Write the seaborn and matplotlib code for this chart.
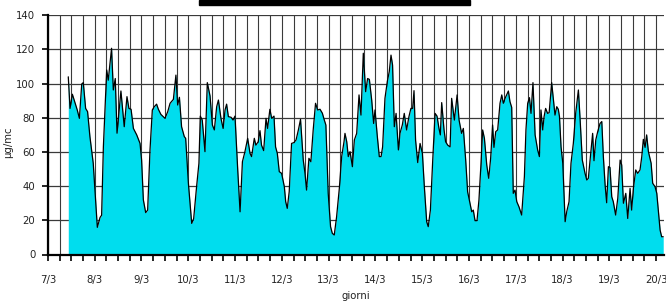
import matplotlib
matplotlib.use("Agg")
import matplotlib.pyplot as plt
import seaborn as sns
import pandas as pd
import numpy as np
from matplotlib.patches import Rectangle
from matplotlib.ticker import MultipleLocator, FixedLocator

# hours elapsed since 7/3 00:00
hours = [10.5, 11.4, 12.6, 14.3, 15.1, 16.2, 17.4, 18.2, 19.4, 20.4, 21.6, 23.3, 24.2, 25.4, 26.8,
         27.6, 28.5, 30.2, 31.0, 32.7, 33.6, 34.6, 35.5, 37.5, 39.2, 40.6, 41.6, 42.7, 43.9, 45.6,
         47.3, 48.1, 49.0, 50.2, 51.2, 52.4, 53.6, 54.6, 55.8, 56.7, 58.0, 60.1, 61.5, 62.7, 64.4,
         65.7, 66.6, 67.5, 68.6, 70.0, 70.7, 72.1, 73.8, 74.8, 76.3, 77.5, 78.2, 79.2, 80.6, 81.8,
         83.2, 84.4, 85.4, 86.6, 87.5, 88.8, 89.9, 90.9, 91.7, 92.6, 94.0, 95.0, 96.0, 97.4, 98.6,
         99.8, 101.1, 102.5, 103.7, 104.5, 105.9, 106.7, 107.9, 108.8, 109.6, 110.7, 111.9, 112.7,
         113.9, 114.8, 116.0, 116.8, 117.7, 118.7, 119.9, 121.3, 122.0, 122.8, 123.8, 125.0, 126.2,
         127.3, 128.5, 129.6, 131.0, 131.9, 132.7, 133.9, 134.9, 136.1, 137.3, 138.4, 139.6, 140.8,
         141.8, 142.6, 143.8, 145.0, 145.9, 146.9, 148.1, 149.5, 150.7, 151.9, 152.4, 153.3, 154.1,
         155.0, 156.2, 157.2, 158.4, 159.6, 160.6, 161.8, 163.0, 164.0, 164.9, 166.1, 167.1, 167.8,
         169.0, 170.0, 170.9, 171.7, 172.9, 174.1, 175.1, 176.0, 176.8, 177.7, 178.6, 179.8, 180.6,
         181.8, 182.8, 184.0, 185.2, 186.2, 187.1, 187.8, 188.6, 189.7, 190.9, 192.1, 193.1, 194.3,
         195.1, 196.2, 197.4, 198.6, 199.6, 200.6, 201.3, 202.0, 203.2, 204.0, 205.1, 206.3, 207.1,
         208.5, 209.9, 210.9, 212.2, 213.1, 214.3, 215.3, 216.5, 217.4, 218.2, 219.1, 220.1, 221.1,
         222.2, 223.0, 223.9, 225.1, 226.1, 227.1, 228.1, 228.8, 229.7, 230.7, 231.9, 232.8, 233.6,
         234.5, 235.3, 236.2, 237.0, 237.9, 238.7, 239.6, 240.5, 241.6, 243.0, 244.4, 245.2, 246.1,
         247.0, 247.8, 248.8, 249.9, 251.2, 252.1, 252.9, 253.8, 254.5, 255.3, 256.3, 257.1, 258.4,
         259.3, 260.1, 261.0, 261.8, 262.4, 263.2, 264.1, 265.3, 266.1, 267.3, 268.3, 269.5, 270.7,
         272.1, 272.9, 274.1, 275.5, 276.4, 277.2, 278.4, 279.4, 280.1, 281.0, 282.0, 283.2, 284.1,
         284.9, 285.8, 286.6, 287.5, 288.3, 289.2, 290.0, 291.2, 292.3, 293.5, 294.3, 295.2, 296.4,
         297.4, 298.6, 299.4, 300.3, 301.5, 302.5, 303.7, 304.6, 305.4, 306.3, 307.1, 308.0, 309.4,
         310.2, 311.4, 312.3, 313.1, 314.0, 314.8, 315.6]

values = [104, 85.5, 93.8, 87.5, 84.6, 79.7, 99.8, 100.6, 85.5, 83.6, 69, 53.4, 37.7, 15.9, 21.7,
          23, 63, 108, 102, 120.7, 96.3, 103, 71, 95.7, 74.8, 92.4, 85.5, 85, 73.8, 70,
          65, 55.3, 32, 24.5, 26, 61, 84.6, 86.5, 88, 85, 82, 79.7, 83.6, 88.5, 90.8,
          105, 87.5, 92, 74.8, 69, 68, 41.7, 18.2, 21, 39.7, 53.4, 81, 78.7, 60.2, 100.6,
          92.8, 75.8, 72.9, 86.5, 90.4, 79.7, 73.8, 84.6, 88, 80.7, 80.3, 78.7, 81, 49.5, 25,
          54.3, 60.2, 68, 59.2, 57.3, 68, 64, 66, 72.5, 64, 60.8, 79.7, 73.8,
          85, 79.7, 81, 63, 59.2, 48.5, 47.5, 39.7, 30.9, 27, 36.8, 65, 65.5,
          67, 72.9, 79.1, 55.3, 47.5, 37.7, 56.3, 54.3, 72.9, 88.5, 84.6, 85, 82.7,
          78.7, 75.8, 35.8, 16.3, 12.4, 11.4, 22.1, 38.7, 57.3, 66, 70.9, 66, 57.3,
          60.2, 51.4, 67, 70.9, 93.4, 81.6, 117.8, 95.3, 103, 102.5, 90.4, 76.7, 84.6,
          68.9, 57.3, 57.3, 63, 91.4, 101.2, 107, 116.7, 110.9, 74.8, 82.6, 61.2, 70.9,
          75.8, 82.6, 72.9, 80.7, 85.5, 85.5, 95.9, 67, 53.8, 65, 59.2, 39.7, 19.2,
          16.3, 26, 55.3, 82.6, 81, 73.8, 70, 88.9, 72.9, 66, 64, 63, 91.4,
          78.7, 93.4, 78.7, 70.9, 73.8, 55.3, 36.7, 30, 25, 26, 19.8, 19.8, 31.9,
          54.3, 72.9, 68, 52.4, 44.6, 56.3, 75.8, 62.7, 71.9, 72.9, 88.5, 93.4, 88.5,
          91.4, 93.4, 95.7, 89.5, 86.1, 35.8, 37.7, 30.9, 28, 23.1, 45.5, 72.9, 88.5,
          91.8, 82.6, 100.6, 70, 61.2, 57.3, 84.6, 72.9, 80.7, 85.5, 82.6, 83, 100.6,
          90.4, 81.6, 86.5, 85, 80.7, 63, 53.4, 19.2, 25, 30.9, 53.4, 65, 82.6,
          96.3, 80.7, 55.3, 47.5, 43.6, 44.6, 59.2, 70.9, 54.9, 67, 71.9, 76.7, 77.8,
          57.3, 40.7, 30.3, 51.4, 51, 33.8, 30.9, 23.1, 32.9, 55.3, 52.4, 30, 35.8,
          21.1, 38.7, 26, 38.7, 49.5, 47.5, 49.5, 57.3, 67.4, 62.7, 70, 60.2, 53.4,
          41.7, 39.7, 35.8, 26, 14.3, 10.4, 10.4]

day_labels = ["7/3", "8/3", "9/3", "10/3", "11/3", "12/3", "13/3",
              "14/3", "15/3", "16/3", "17/3", "18/3", "19/3", "20/3"]
y_ticks = [0, 20, 40, 60, 80, 100, 120, 140]

df = pd.DataFrame({"ora": hours, "conc": values})

sns.set_theme(style="white")
plt.rcParams["font.family"] = ["DejaVu Sans"]

fig = plt.figure(figsize=(6.66, 3.04), dpi=100)
W, H = 666, 304
x0, y0, y1, xr = 47.8, 254.5, 15.3, 664
ax = fig.add_axes([x0 / W, (H - y0) / H, (xr - x0) / W, (y0 - y1) / H])
ax.set_facecolor("white")

ax.fill_between(df["ora"], df["conc"], 0, color="#00DDEE", linewidth=0, zorder=2)
sns.lineplot(data=df, x="ora", y="conc", ax=ax, color="black", linewidth=0.9,
             zorder=3, estimator=None, sort=False)

ax.set_xlim(0, (xr - x0) / 1.95)
ax.set_ylim(0, 140)

ax.xaxis.set_major_locator(FixedLocator([24 * i for i in range(len(day_labels))]))
ax.set_xticklabels(day_labels)
ax.xaxis.set_minor_locator(MultipleLocator(6))
ax.set_yticks(y_ticks)

ax.grid(True, which="both", axis="x", color="#3a3a3a", linewidth=0.8, zorder=0)
ax.grid(True, which="major", axis="y", color="#3a3a3a", linewidth=0.9, zorder=0)
ax.set_axisbelow(True)

for s in ["top", "right"]:
    ax.spines[s].set_visible(False)
for s in ["left", "bottom"]:
    ax.spines[s].set_color("black")
    ax.spines[s].set_linewidth(1.6)
    ax.spines[s].set_zorder(4)

ax.tick_params(axis="x", which="both", direction="out", length=4, width=1.2,
               color="black", pad=11, labelsize=7.3, labelcolor="#222222", bottom=True)
ax.tick_params(axis="y", which="major", direction="out", length=4, width=1.2,
               color="black", pad=5, labelsize=7.3, labelcolor="#222222", left=True)

ax.set_xlabel("giorni", fontsize=7.3, color="#222222", labelpad=4)
ax.set_ylabel("µg/mc", fontsize=7.3, color="#222222")
ax.yaxis.set_label_coords(-0.056, 0.47)

fig.patches.append(Rectangle((199 / W, 1 - 4.5 / H), 271 / W, 4.5 / H,
                             transform=fig.transFigure, color="black", zorder=10))

fig.savefig("out.png", dpi=100)
